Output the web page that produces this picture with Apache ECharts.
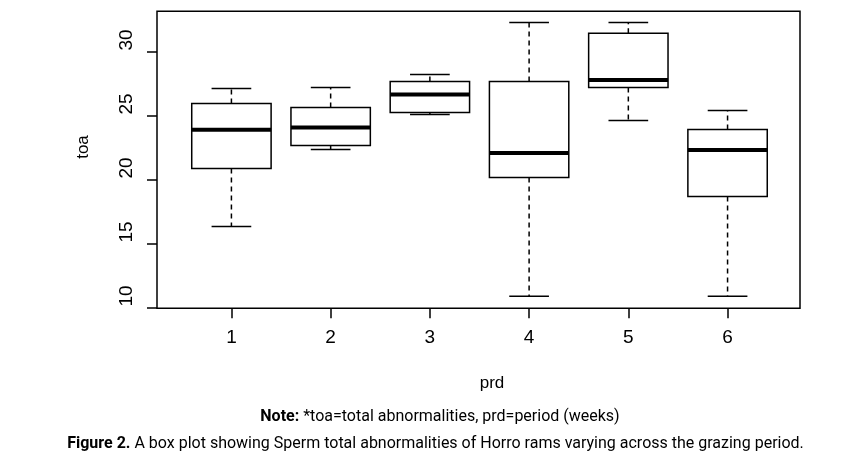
<!DOCTYPE html>
<html>
<head>
<meta charset="utf-8">
<script src="https://cdn.jsdelivr.net/npm/echarts@6/dist/echarts.min.js"></script>
<style>
html,body{margin:0;padding:0;background:#fff;}
#chart{width:850px;height:469px;}
</style>
</head>
<body>
<div id="chart"></div>
<script>
// Data
const periods = [1, 2, 3, 4, 5, 6];
const mins    = [16.33, 22.34, 25.08, 10.88, 24.61, 10.88];
const q1s     = [20.86, 22.66, 25.23, 20.16, 27.19, 18.67];
const medians = [23.88, 24.06, 26.64, 22.08, 27.78, 22.31];
const q3s     = [25.94, 25.63, 27.66, 27.66, 31.43, 23.91];
const maxs    = [27.11, 27.19, 28.20, 32.27, 32.27, 25.39];
const yTicks  = [10, 15, 20, 25, 30];
const xTicks  = [1, 2, 3, 4, 5, 6];

const boxData = periods.map((p, i) => [p, mins[i], q1s[i], medians[i], q3s[i], maxs[i]]);

const FONT = '"Liberation Sans", Arial, sans-serif';
const CAPFONT = 'Roboto, "Liberation Sans", sans-serif';
const LW = 1.5;

const chart = echarts.init(document.getElementById('chart'), null, {renderer: 'canvas'});

function renderBox(params, api) {
  const x = api.value(0);
  const lo = api.value(1), q1 = api.value(2), med = api.value(3), q3 = api.value(4), hi = api.value(5);
  const hw = 0.4, sw = 0.2;
  const tl = api.coord([x - hw, q3]);
  const br = api.coord([x + hw, q1]);
  const mL = api.coord([x - hw, med]);
  const mR = api.coord([x + hw, med]);
  const cQ3 = api.coord([x, q3]);
  const cHi = api.coord([x, hi]);
  const cQ1 = api.coord([x, q1]);
  const cLo = api.coord([x, lo]);
  const sHiL = api.coord([x - sw, hi]);
  const sHiR = api.coord([x + sw, hi]);
  const sLoL = api.coord([x - sw, lo]);
  const sLoR = api.coord([x + sw, lo]);
  const solid = {stroke: '#000', lineWidth: LW, fill: null};
  const dashed = {stroke: '#000', lineWidth: LW, lineDash: [5, 4], fill: null};
  return {
    type: 'group',
    children: [
      {type: 'line', shape: {x1: cQ3[0], y1: cQ3[1], x2: cHi[0], y2: cHi[1]}, style: dashed},
      {type: 'line', shape: {x1: cQ1[0], y1: cQ1[1], x2: cLo[0], y2: cLo[1]}, style: dashed},
      {type: 'line', shape: {x1: sHiL[0], y1: sHiL[1], x2: sHiR[0], y2: sHiR[1]}, style: solid},
      {type: 'line', shape: {x1: sLoL[0], y1: sLoL[1], x2: sLoR[0], y2: sLoR[1]}, style: solid},
      {type: 'rect', shape: {x: tl[0], y: tl[1], width: br[0] - tl[0], height: br[1] - tl[1]},
        style: {stroke: '#000', lineWidth: LW, fill: '#fff'}},
      {type: 'line', shape: {x1: mL[0], y1: mL[1], x2: mR[0], y2: mR[1]},
        style: {stroke: '#000', lineWidth: 4, fill: null}}
    ]
  };
}

chart.setOption({
  backgroundColor: '#fff',
  animation: false,
  grid: {
    left: 157, right: 50, top: 11.3, bottom: 160.7,
    show: true, borderColor: '#000', borderWidth: LW, backgroundColor: 'transparent',
    containLabel: false
  },
  xAxis: {
    type: 'value', min: 0.25, max: 6.73,
    axisLine: {show: false},
    splitLine: {show: false},
    axisTick: {show: true, customValues: xTicks, length: 10, lineStyle: {color: '#000', width: LW}},
    axisLabel: {customValues: xTicks, color: '#000', fontSize: 19, fontFamily: FONT, margin: 20}
  },
  yAxis: {
    type: 'value', min: 9.94, max: 33.14,
    axisLine: {show: false},
    splitLine: {show: false},
    axisTick: {show: true, customValues: yTicks, length: 10, lineStyle: {color: '#000', width: LW}},
    axisLabel: {customValues: yTicks, color: '#000', fontSize: 19, fontFamily: FONT, margin: 21,
      rotate: 90, padding: [0, 0, 0, 23]}
  },
  series: [{
    type: 'custom',
    renderItem: renderBox,
    encode: {x: 0, y: [1, 2, 3, 4, 5]},
    data: boxData,
    clip: false
  }],
  graphic: [
    {type: 'text', x: 83, y: 147, rotation: Math.PI / 2,
      style: {text: 'toa', font: '17px ' + FONT, fill: '#000', align: 'center', verticalAlign: 'middle'}},
    {type: 'text', x: 492, y: 383,
      style: {text: 'prd', font: '17px ' + FONT, fill: '#000', align: 'center', verticalAlign: 'middle'}},
    {type: 'text', x: 440, y: 417,
      style: {text: '{b|Note:} *toa=total abnormalities, prd=period (weeks)',
        font: '16px ' + CAPFONT, fill: '#000', align: 'center', verticalAlign: 'middle',
        rich: {b: {fontWeight: 'bold', fontSize: 16, fontFamily: CAPFONT}}}},
    {type: 'text', x: 435.5, y: 444,
      style: {text: '{b|Figure 2.} A box plot showing Sperm total abnormalities of Horro rams varying across the grazing period.',
        font: '16px ' + CAPFONT, fill: '#000', align: 'center', verticalAlign: 'middle',
        rich: {b: {fontWeight: 'bold', fontSize: 16, fontFamily: CAPFONT}}}}
  ]
});
</script>
</body>
</html>
